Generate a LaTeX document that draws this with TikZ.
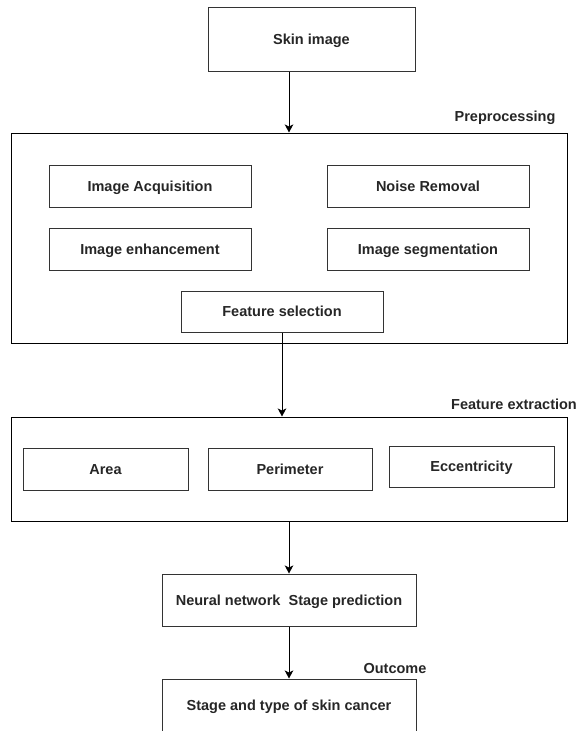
\documentclass[tikz,border=0pt]{standalone}
\usepackage{fontspec}
\setmainfont{Liberation Sans}
\usetikzlibrary{arrows.meta,positioning}

\begin{document}
\begin{tikzpicture}[x=1pt,y=1pt]
  
  \tikzset{main node/.style={rectangle, draw=black!80, line width=1pt,
  		text centered, inner sep=0pt, minimum width=202pt, minimum height=42pt,
  		text height=10.4pt, text depth=0pt,
  		text=black!85, font=\fontsize{14.5}{17}\selectfont\bfseries}, }
  \tikzset{group node/.style={rectangle, draw, line width=1pt, minimum width=556pt}, }
  \tikzset{group label/.style={text=black!85, text height=10.4pt, text depth=0pt,
  		font=\fontsize{14.5}{17}\selectfont\bfseries}, }
  \tikzset{linea/.style={-{Stealth[length=8pt,width=8.5pt,inset=2pt]}, line width=1pt}, }
\useasboundingbox (0,0) rectangle (585,-731);
\node[main node, minimum width=207pt, minimum height=64pt] (1) at (311.5,-39) {Skin image};
\node[group node, minimum height=210pt] (2) at (289,-238) {};
\node[group label] (2l) at (505,-116) {Preprocessing};
\node[main node] (3) at (150,-186) {Image Acquisition};
\node[main node] (4) [right =75pt of 3] {Noise Removal};
\node[main node] (5) [below =20pt of 3] {Image enhancement};
\node[main node] (6) [below =20pt of 4] {Image segmentation};
\node[main node, minimum height=41pt] (7) at (282,-311.5) {Feature selection};

\node[group node, minimum height=104pt] (8) at (289,-469) {};
\node[group label] (8l) at (514,-404) {Feature extraction};
\node[main node, minimum width=165pt] (9) at (105.5,-469) {Area};
\node[main node, minimum width=164pt] (10) [right =19pt of 9] {Perimeter};
\node[main node, minimum width=165pt, minimum height=41pt] (11) at (471.5,-466.5) {Eccentricity};

\node[main node, minimum width=254pt, minimum height=52pt] (12) at (289,-600) {Neural network~ Stage prediction};
\node[main node, minimum width=254pt, minimum height=52pt] (13) [below =52pt of 12] {Stage and type of skin cancer};
\node[group label] (13l) at (395,-668) {Outcome};

\path[linea] (1.south -| 2.north) edge (2.north);
\path[linea] (7.south) edge (7.south |- 8.north);
\foreach \x /\y in{8/12,12/13}
  \path[linea] (\x) edge (\y);
%%  
\end{tikzpicture}
\end{document}
